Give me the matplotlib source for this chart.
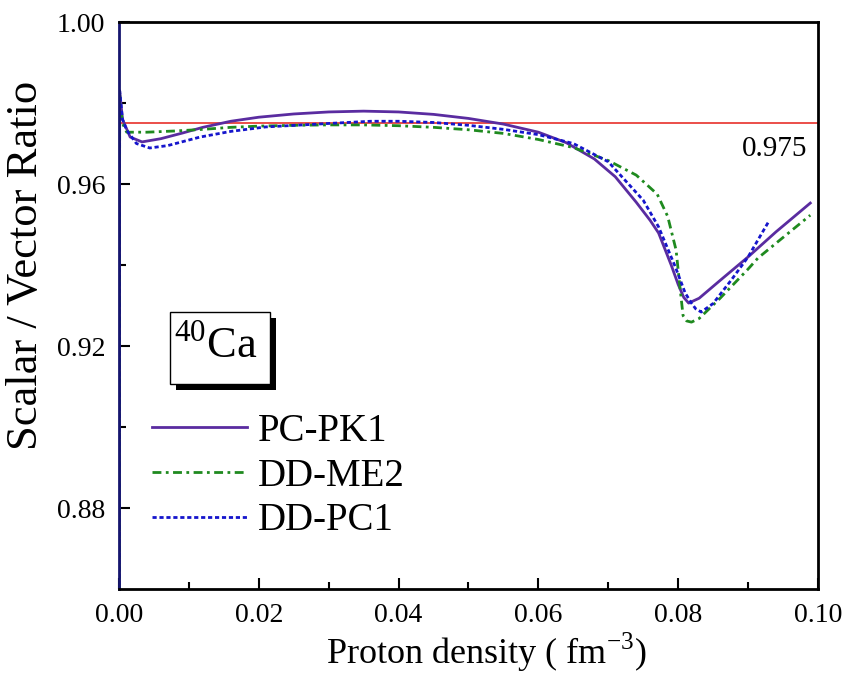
import numpy as np
import matplotlib
matplotlib.use("Agg")
import matplotlib.pyplot as plt
import matplotlib.patheffects as pe
from matplotlib.patches import Rectangle

plt.rcParams['font.family'] = ['Liberation Serif', 'DejaVu Serif']
plt.rcParams['mathtext.fontset'] = 'custom'
plt.rcParams['mathtext.rm'] = 'Liberation Serif'

# values
x_pk1 = [0.0, 0.0001, 0.0005, 0.0016, 0.0033, 0.0060, 0.0091, 0.012, 0.016, 0.020, 0.025, 0.030,
         0.035, 0.040, 0.045, 0.050, 0.055, 0.060, 0.064, 0.068, 0.071, 0.074, 0.0760, 0.0772,
         0.0790, 0.0800, 0.0808, 0.0815, 0.0830, 0.0860, 0.0900, 0.0940, 0.0989]
y_pk1 = [0.80, 0.983, 0.976, 0.9716, 0.9704, 0.9712, 0.9726, 0.9740, 0.9755, 0.9765, 0.9773, 0.9778,
         0.9780, 0.9778, 0.9772, 0.9762, 0.9748, 0.9728, 0.9702, 0.9662, 0.9618, 0.9555, 0.9510, 0.9479,
         0.9400, 0.9352, 0.9320, 0.9306, 0.9318, 0.9362, 0.9420, 0.9482, 0.9553]

x_me2 = [0.0, 0.0001, 0.0005, 0.0011, 0.0040, 0.0080, 0.012, 0.016, 0.020, 0.025, 0.030, 0.035,
         0.040, 0.045, 0.050, 0.055, 0.060, 0.065, 0.070, 0.074, 0.077, 0.0785, 0.0797, 0.0803,
         0.0807, 0.0812, 0.0819, 0.0830, 0.0860, 0.0900, 0.0914, 0.0950, 0.0989]
y_me2 = [0.80, 0.982, 0.975, 0.9728, 0.9728, 0.9731, 0.9735, 0.9740, 0.9743, 0.9745, 0.9746, 0.9746,
         0.9744, 0.9740, 0.9734, 0.9725, 0.9710, 0.9690, 0.9658, 0.9622, 0.9575, 0.9520, 0.9437, 0.9338,
         0.9275, 0.9262, 0.9259, 0.9268, 0.9318, 0.9390, 0.9417, 0.9468, 0.9523]

x_pc1 = [0.0, 0.0001, 0.0005, 0.0011, 0.0025, 0.0044, 0.0070, 0.0116, 0.016, 0.021, 0.0305, 0.036,
         0.040, 0.045, 0.050, 0.055, 0.060, 0.065, 0.070, 0.075, 0.0772, 0.0796, 0.0810, 0.0819,
         0.0825, 0.0833, 0.0850, 0.0876, 0.0900, 0.0929]
y_pc1 = [0.80, 0.983, 0.976, 0.9733, 0.9700, 0.9689, 0.9695, 0.9716, 0.9730, 0.9741, 0.9750, 0.9755,
         0.9755, 0.9752, 0.9745, 0.9735, 0.9722, 0.9700, 0.9655, 0.9560, 0.9494, 0.9395, 0.9331, 0.9306,
         0.9292, 0.9284, 0.9305, 0.9363, 0.9420, 0.9506]

ref_value = 0.975

fig = plt.figure(figsize=(8.48, 6.74), dpi=100)
ax = fig.add_axes([0.1403, 0.1261, 0.8243, 0.8412])

ax.axhline(ref_value, color='#e8302a', lw=1.2, zorder=1)
ax.plot(x_pk1, y_pk1, color='#5a2ca0', lw=2.0, label='PC-PK1')
ax.plot(x_me2, y_me2, color='#1f8a1f', lw=2.0, ls=(0, (3.2, 1.6, 1.0, 1.6)), label='DD-ME2')
ax.plot(x_pc1, y_pc1, color='#1515cc', lw=2.0, ls=(0, (1.5, 1.0)), label='DD-PC1')

ax.text(0.0985, 0.9686, '0.975', fontsize=21, ha='right', va='center')

# 40Ca box with drop shadow
box = Rectangle((0.073, 0.3616), 0.143, 0.127, transform=ax.transAxes,
                fc='white', ec='black', lw=1.0, zorder=4)
box.set_path_effects([pe.SimplePatchShadow(offset=(4.5, -4.5), shadow_rgbFace='black', alpha=1.0),
                      pe.Normal()])
ax.add_patch(box)
ax.text(0.139, 0.4286, r'$^{40}$Ca', fontsize=32, ha='center', va='center',
        transform=ax.transAxes, zorder=5)

ax.set_xlim(0, 0.1)
ax.set_ylim(0.86, 1.0)
ax.set_xticks(np.arange(0, 0.101, 0.02))
ax.set_xticks(np.arange(0.01, 0.1, 0.02), minor=True)
ax.set_yticks([0.88, 0.92, 0.96, 1.00])
ax.set_yticks([0.90, 0.94, 0.98], minor=True)
ax.set_xticklabels(['0.00', '0.02', '0.04', '0.06', '0.08', '0.10'])
ax.set_yticklabels(['0.88', '0.92', '0.96', '1.00'])
ax.tick_params(direction='in', length=8, width=1.5, labelsize=20, pad=10)
ax.tick_params(which='minor', direction='in', length=5, width=1.5)
for s in ax.spines.values():
    s.set_linewidth(2.0)
ax.spines['left'].set_color('#15156e')

ax.set_xlabel(r'Proton density ( fm$^{-3}$)', fontsize=26)
ax.xaxis.set_label_coords(0.526, -0.074)
ax.set_ylabel('Scalar / Vector Ratio', fontsize=32)
ax.yaxis.set_label_coords(-0.104, 0.57)

ax.legend(loc='center left', bbox_to_anchor=(0.047, 0.199), frameon=False, fontsize=28,
          handlelength=2.44, handletextpad=0.28, labelspacing=0.2,
          borderpad=0.0, borderaxespad=0.0)

fig.savefig('out.png', dpi=100)
